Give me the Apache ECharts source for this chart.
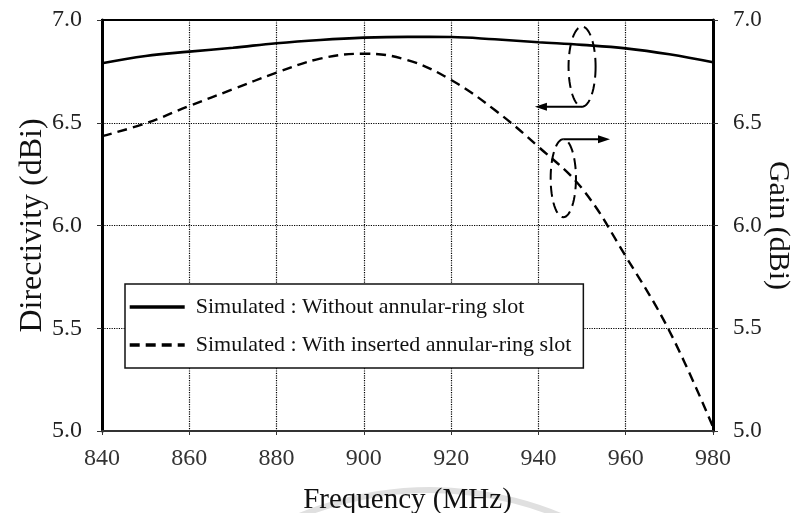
<!DOCTYPE html>
<html>
<head>
<meta charset="utf-8">
<script src="https://cdn.jsdelivr.net/npm/echarts@6/dist/echarts.min.js"></script>
<style>
  html, body { margin: 0; padding: 0; background: #fff; }
  #chart { width: 799px; height: 513px; }
</style>
</head>
<body>
<div id="chart"></div>
<script>
// frequency points (MHz)
var freq = [840, 850, 860, 870, 880, 890, 900, 910, 920, 930, 940, 950, 960, 970, 980];
// simulated, without annular-ring slot
var withoutSlot = [6.79, 6.825, 6.846, 6.865, 6.887, 6.903, 6.914, 6.918, 6.917, 6.906, 6.892, 6.879, 6.862, 6.833, 6.794];
// simulated, with inserted annular-ring slot
var withSlot = [6.435, 6.497, 6.582, 6.663, 6.744, 6.812, 6.836, 6.805, 6.708, 6.562, 6.383, 6.18, 5.85, 5.487, 5.02];

var legendNames = ['Simulated : Without annular-ring slot', 'Simulated : With inserted annular-ring slot'];

// annotation marks (data coords): ellipse centre, radii, arrow end
var ellipseLeft = { f: 950, v: 6.773, rf: 3.1, rv: 0.195, arrowTo: 939.2 };
var ellipseRight = { f: 945.7, v: 6.23, rf: 2.9, rv: 0.19, arrowTo: 956.4 };

function pairs(xs, ys) {
  var out = [];
  for (var i = 0; i < xs.length; i++) out.push([xs[i], ys[i]]);
  return out;
}

var FONT = 'Liberation Serif';
var myChart = echarts.init(document.getElementById('chart'));

var option = {
  animation: false,
  backgroundColor: '#fff',
  textStyle: { fontFamily: FONT, color: '#111' },
  grid: { left: 102, right: 86, top: 20, bottom: 82, outerBoundsMode: 'none',
    show: true, borderColor: '#000', borderWidth: 2 },
  legend: {
    orient: 'vertical',
    left: 125, top: 284,
    padding: [10, 12, 10, 3],
    itemGap: 12,
    itemWidth: 55, itemHeight: 14,
    backgroundColor: '#fff',
    borderColor: '#111', borderWidth: 1.5,
    borderRadius: 0,
    itemStyle: { opacity: 0 },
    lineStyle: { width: 3.4 },
    textStyle: { fontFamily: FONT, fontSize: 22, color: '#111', lineHeight: 26, padding: [0, 0, 0, 6] },
    data: legendNames
  },
  xAxis: {
    type: 'value', min: 840, max: 980, interval: 20,
    name: 'Frequency (MHz)', nameLocation: 'middle', nameGap: 55, nameMoveOverlap: false,
    nameTextStyle: { fontFamily: FONT, fontSize: 29, color: '#111' },
    axisLine: { lineStyle: { color: '#333', width: 2 } },
    axisTick: { show: true, length: 4, inside: false, lineStyle: { color: '#333' } },
    axisLabel: { fontFamily: FONT, fontSize: 24, color: '#333', margin: 16 },
    splitLine: { show: true, lineStyle: { type: 'dotted', color: '#000', width: 1.2 } }
  },
  yAxis: [{
    type: 'value', min: 5, max: 7, interval: 0.5, position: 'left',
    name: 'Directivity (dBi)', nameLocation: 'middle', nameGap: 53, nameMoveOverlap: false,
    nameTextStyle: { fontFamily: FONT, fontSize: 32, color: '#111' },
    axisLine: { show: true, lineStyle: { color: '#000', width: 3 } },
    axisTick: { show: true, length: 5, lineStyle: { color: '#333' } },
    axisLabel: { fontFamily: FONT, fontSize: 24, color: '#222', margin: 20,
      formatter: function (v) { return v.toFixed(1); } },
    splitLine: { show: true, lineStyle: { type: 'dotted', color: '#000', width: 1.2 } }
  }, {
    type: 'value', min: 5, max: 7, interval: 0.5, position: 'right',
    name: 'Gain (dBi)', nameLocation: 'middle', nameGap: 50, nameRotate: -90, nameMoveOverlap: false,
    nameTextStyle: { fontFamily: FONT, fontSize: 30, color: '#111' },
    axisLine: { show: true, lineStyle: { color: '#000', width: 3 } },
    axisTick: { show: true, length: 5, lineStyle: { color: '#333' } },
    axisLabel: { fontFamily: FONT, fontSize: 23, color: '#222', margin: 20,
      formatter: function (v) { return v.toFixed(1); } },
    splitLine: { show: false }
  }],
  series: [{
    name: legendNames[0], type: 'line', yAxisIndex: 0,
    data: pairs(freq, withoutSlot),
    smooth: 0.4, showSymbol: false, symbol: 'none',
    lineStyle: { color: '#000', width: 2.6 },
    itemStyle: { color: '#000' }
  }, {
    name: legendNames[1], type: 'line', yAxisIndex: 1,
    data: pairs(freq, withSlot),
    smooth: 0.4, showSymbol: false, symbol: 'none',
    lineStyle: { color: '#000', width: 2.4, type: [10, 6] },
    itemStyle: { color: '#000' }
  }]
};
myChart.setOption(option);

// dashed ellipses and arrows, placed through the axis scales
function toPx(f, v) { return myChart.convertToPixel({ gridIndex: 0 }, [f, v]); }

function ellipsePoints(e) {
  var c = toPx(e.f, e.v);
  var r = toPx(e.f + e.rf, e.v + e.rv);
  var rx = r[0] - c[0], ry = c[1] - r[1];
  var pts = [];
  for (var i = 0; i <= 64; i++) {
    var a = i / 64 * Math.PI * 2;
    pts.push([c[0] + rx * Math.cos(a), c[1] + ry * Math.sin(a)]);
  }
  return pts;
}

function arrow(fromPt, toX) {
  var dir = toX < fromPt[0] ? -1 : 1;
  var y = fromPt[1];
  return [{
    type: 'line', z: 10,
    shape: { x1: fromPt[0], y1: y, x2: toX - dir * 8, y2: y },
    style: { stroke: '#000', lineWidth: 2 }
  }, {
    type: 'polygon', z: 10,
    shape: { points: [[toX, y], [toX - dir * 12, y - 4], [toX - dir * 12, y + 4]] },
    style: { fill: '#000' }
  }];
}

var cL = toPx(ellipseLeft.f, ellipseLeft.v - ellipseLeft.rv);
var cR = toPx(ellipseRight.f, ellipseRight.v + ellipseRight.rv);
var arrowL = toPx(ellipseLeft.arrowTo, ellipseLeft.v);
var arrowR = toPx(ellipseRight.arrowTo, ellipseRight.v);

var graphics = [{
  type: 'arc', z: -1, silent: true,
  shape: { cx: 430, cy: 830, r: 340, startAngle: Math.PI * 1.2, endAngle: Math.PI * 1.8 },
  style: { stroke: '#e0e0e0', lineWidth: 6, fill: null }
}, {
  type: 'polygon', z: 10,
  shape: { points: ellipsePoints(ellipseLeft) },
  style: { fill: null, stroke: '#000', lineWidth: 2, lineDash: [11, 6] }
}, {
  type: 'polygon', z: 10,
  shape: { points: ellipsePoints(ellipseRight) },
  style: { fill: null, stroke: '#000', lineWidth: 2, lineDash: [11, 6] }
}];
graphics = graphics.concat(arrow(cL, arrowL[0]), arrow(cR, arrowR[0]));
myChart.setOption({ graphic: graphics });
</script>
</body>
</html>
